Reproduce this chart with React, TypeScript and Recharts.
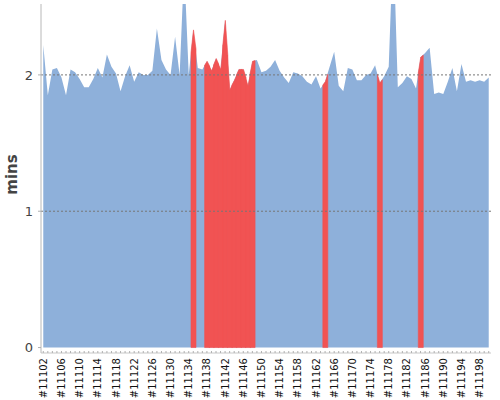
import { ComposedChart, Area, Bar, XAxis, YAxis, ReferenceLine } from 'recharts'

// build duration in minutes, one value per build starting at #11102
const firstBuild = 11102
const buildTimes = [
  2.22, 1.85, 2.04, 2.05, 1.98, 1.85, 2.04, 2.02, 1.97, 1.91,
  1.91, 1.97, 2.05, 1.98, 2.15, 2.06, 2.01, 1.88, 1.99, 2.07,
  1.95, 2.02, 2.0, 2.0, 2.03, 2.34, 2.11, 2.04, 2.0, 2.28,
  2.0, 2.8, 2.0, 2.33, 2.05, 2.04, 2.1, 2.03, 2.12, 2.04,
  2.4, 1.89, 1.96, 2.04, 2.04, 1.92, 2.1, 2.11, 2.02, 2.03,
  2.06, 2.11, 2.03, 1.98, 1.94, 2.02, 2.01, 1.99, 1.95, 1.93,
  1.99, 1.9, 1.95, 2.06, 2.17, 1.92, 1.88, 2.05, 2.04, 1.96,
  1.96, 2.0, 2.01, 2.07, 1.94, 1.99, 2.06, 3.0, 1.91, 1.94,
  1.99, 1.97, 1.9, 2.13, 2.16, 2.2, 1.86, 1.87, 1.86, 1.95,
  2.05, 1.88, 2.08, 1.95, 1.96, 1.95, 1.96, 1.95, 1.98,
]
const failedBuilds = [
  11135, 11138, 11139, 11140, 11141, 11142, 11143, 11144, 11145, 11146,
  11147, 11148, 11164, 11176, 11185,
]
const yTicks = [0, 1, 2]
const gridValues = [1, 2]
const labelEvery = 4

const okColor = '#8eb0da'
const failColor = '#f15353'
const font = '"DejaVu Sans", sans-serif'

const builds = buildTimes.map((_, i) => `#${firstBuild + i}`)

const data = buildTimes.map((t, i) => ({
  build: builds[i],
  time: t,
  fail: failedBuilds.includes(firstBuild + i) ? t : null,
}))

// red column that follows the same linear outline as the area
const FailShape = (props: any) => {
  const { x, y, width, height, payload } = props
  if (!height || height <= 0 || !payload) return null
  const i = builds.indexOf(payload.build)
  if (i < 0) return null
  const v = buildTimes[i]
  const k = height / v
  const prev = i > 0 ? buildTimes[i - 1] : v
  const next = i < buildTimes.length - 1 ? buildTimes[i + 1] : v
  const base = y + height
  const left = base - ((prev + v) / 2) * k
  const right = base - ((v + next) / 2) * k
  const pts = [
    [x, base], [x, left], [x + width / 2, y], [x + width, right], [x + width, base],
  ]
  return (
    <polygon
      points={pts.map(p => p.join(',')).join(' ')}
      fill={failColor}
      stroke={failColor}
      strokeWidth={0.6}
    />
  )
}

const XTick = ({ x, y, payload, index }: any) => (
  <g>
    <line x1={x} x2={x} y1={y - 2} y2={y} stroke="#b0b0b0" />
    {index % labelEvery === 0 && (
      <text
        x={x}
        y={y + 5}
        transform={`rotate(-90, ${x}, ${y + 5})`}
        textAnchor="end"
        dominantBaseline="central"
        fontSize={10}
        fontFamily={font}
        fill="#111"
      >
        {payload.value}
      </text>
    )}
  </g>
)

const MinsLabel = ({ viewBox }: any) => {
  const cx = 12
  const cy = viewBox.y + viewBox.height / 2 - 4
  return (
    <text
      x={cx}
      y={cy}
      transform={`rotate(-90, ${cx}, ${cy})`}
      textAnchor="middle"
      dominantBaseline="central"
      fontSize={15}
      fontWeight="bold"
      fontFamily={font}
      fill="#444"
    >
      mins
    </text>
  )
}

export default function App() {
  return (
    <div style={{ position: 'absolute', left: 0, top: 0, background: '#fff' }}>
      <ComposedChart
        width={500}
        height={400}
        data={data}
        margin={{ top: 4, right: 9, left: 0, bottom: 0 }}
        barCategoryGap={0}
      >
        <XAxis
          dataKey="build"
          interval={0}
          tickSize={0}
          tickMargin={0}
          tickLine={false}
          axisLine={{ stroke: '#c8c8c8' }}
          height={47}
          tick={<XTick />}
        />
        <YAxis
          width={41}
          domain={[-0.04, 2.52]}
          allowDataOverflow
          ticks={yTicks}
          tickSize={3}
          tickMargin={5}
          tickLine={{ stroke: '#b0b0b0' }}
          axisLine={{ stroke: '#b8b8b8' }}
          tick={{ fontSize: 13, fill: '#444', fontFamily: font }}
          label={<MinsLabel />}
        />
        <Area
          type="linear"
          dataKey="time"
          baseValue={0}
          fill={okColor}
          fillOpacity={1}
          stroke="none"
          isAnimationActive={false}
        />
        <Bar dataKey="fail" shape={<FailShape />} isAnimationActive={false} />
        {gridValues.map(g => (
          <ReferenceLine key={g} y={g} stroke="#777" strokeDasharray="2 2" />
        ))}
      </ComposedChart>
    </div>
  )
}
